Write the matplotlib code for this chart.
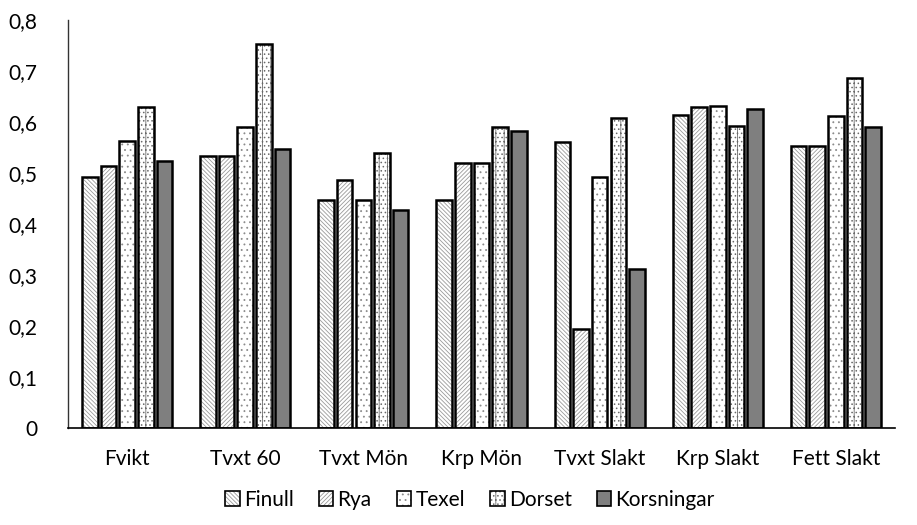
import matplotlib
matplotlib.use("Agg")
import matplotlib.pyplot as plt
import numpy as np
from matplotlib.patches import Patch
from matplotlib.legend_handler import HandlerTuple
from matplotlib.ticker import FuncFormatter

plt.rcParams['font.family'] = ['Lato', 'DejaVu Sans']
plt.rcParams['hatch.linewidth'] = 0.6

categories = ["Fvikt", "Tvxt 60", "Tvxt Mön", "Krp Mön", "Tvxt Slakt", "Krp Slakt", "Fett Slakt"]
series_names = ["Finull", "Rya", "Texel", "Dorset", "Korsningar"]

finull = [0.493, 0.533, 0.447, 0.448, 0.560, 0.614, 0.552]
rya = [0.513, 0.533, 0.486, 0.520, 0.194, 0.630, 0.553]
texel = [0.562, 0.590, 0.447, 0.520, 0.493, 0.632, 0.611]
dorset = [0.630, 0.752, 0.540, 0.590, 0.607, 0.592, 0.687]
korsningar = [0.523, 0.548, 0.427, 0.582, 0.312, 0.625, 0.591]

yticks = [0, 0.1, 0.2, 0.3, 0.4, 0.5, 0.6, 0.7, 0.8]

series = [finull, rya, texel, dorset, korsningar]
# (face colour, hatch pattern, hatch colour)
styles = [
    ("white", "\\\\\\\\\\\\\\\\", "#9a9a9a"),
    ("white", "////////", "#9a9a9a"),
    ("white", "...", "#8c8c8c"),
    ("white", "||....", "#6a6a6a"),
    ("#7f7f7f", None, "#7f7f7f"),
]

fig = plt.figure(figsize=(9.17, 5.25), dpi=100)
ax = fig.add_axes([68 / 917, 1 - 428 / 525, (895 - 68) / 917, (428 - 20) / 525])

x = np.arange(len(categories))
pitch = 0.158
width = 0.132
handles = []
for i, (vals, (fc, hatch, hc)) in enumerate(zip(series, styles)):
    pos = x + (i - 2) * pitch
    ax.bar(pos, vals, width=width, color=fc, edgecolor=hc, hatch=hatch,
           linewidth=0, zorder=2)
    ax.bar(pos, vals, width=width, fill=False, edgecolor="black",
           linewidth=1.8, zorder=3)
    handles.append((Patch(facecolor=fc, edgecolor=hc, hatch=hatch, linewidth=0),
                    Patch(fill=False, edgecolor="black", linewidth=1.2)))

ax.set_xlim(-0.5, len(categories) - 0.5)
ax.set_ylim(0, 0.8)
ax.set_yticks(yticks)
ax.yaxis.set_major_formatter(FuncFormatter(lambda v, p: ("%g" % round(v, 2)).replace(".", ",")))
ax.set_xticks(x)
ax.set_xticklabels(categories)
ax.tick_params(axis="both", length=0, labelsize=15, colors="black")
ax.tick_params(axis="y", pad=22)
ax.tick_params(axis="x", pad=15)

for s in ("top", "right"):
    ax.spines[s].set_visible(False)
ax.spines["left"].set_color("#333333")
ax.spines["left"].set_linewidth(1.0)
ax.spines["bottom"].set_color("black")
ax.spines["bottom"].set_linewidth(1.2)

fig.legend(handles, series_names, handler_map={tuple: HandlerTuple(ndivide=1)},
           loc="center", bbox_to_anchor=(470 / 917, 1 - 500 / 525), ncol=5,
           frameon=False, fontsize=15, handlelength=0.7, handleheight=0.7,
           handletextpad=0.2, columnspacing=1.2)

fig.savefig("out.png", dpi=100)
